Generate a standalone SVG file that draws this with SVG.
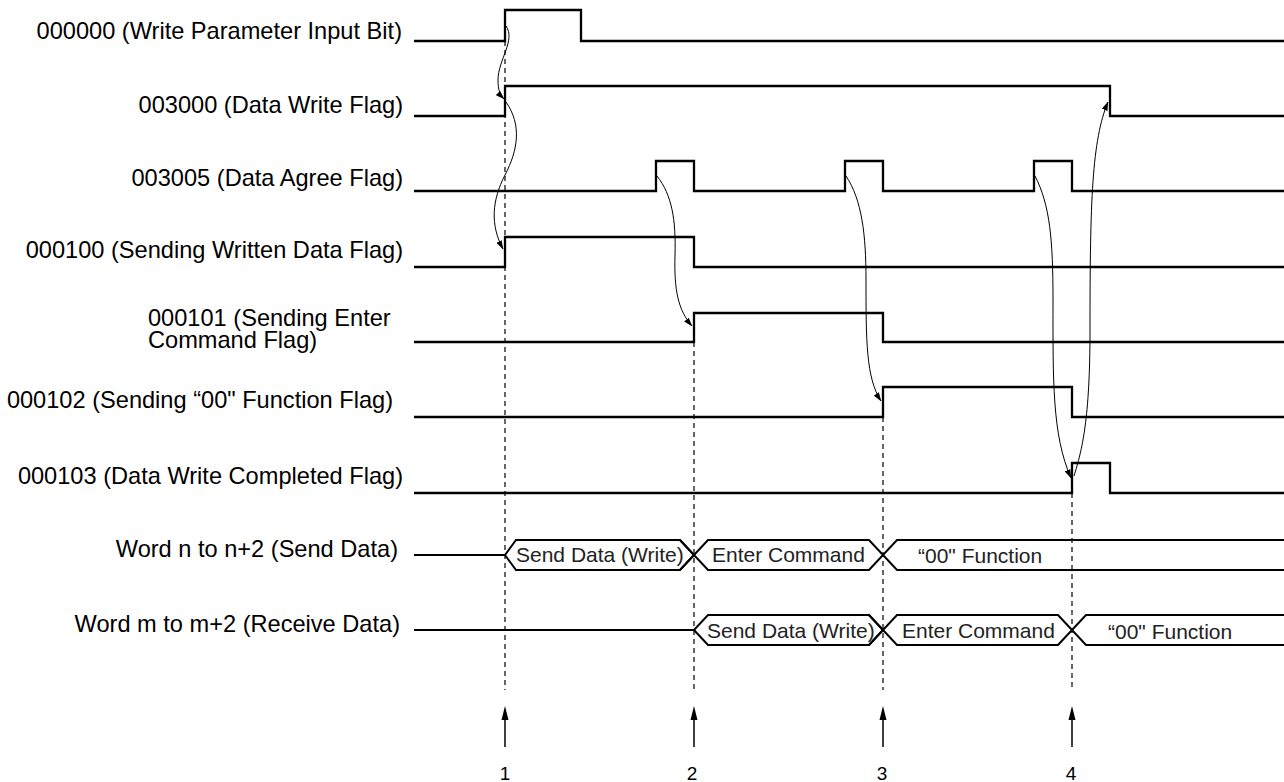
<svg xmlns="http://www.w3.org/2000/svg" width="1284" height="782" viewBox="0 0 1284 782">
<style>
.lbl{font-family:"Liberation Sans",Arial,sans-serif;font-size:23.6px;fill:#000;text-anchor:end}
.lbs{font-family:"Liberation Sans",Arial,sans-serif;font-size:23.6px;fill:#000}
.bt{font-family:"Liberation Sans",Arial,sans-serif;font-size:21px;fill:#222}
.num{font-family:"Liberation Sans",Arial,sans-serif;font-size:19px;fill:#000;text-anchor:middle}
.sig{fill:none;stroke:#000;stroke-width:2.3;stroke-linejoin:miter}
.bus{fill:none;stroke:#000;stroke-width:2}
.dash{fill:none;stroke:#000;stroke-width:1.2;stroke-dasharray:5 4}
.cur{fill:none;stroke:#000;stroke-width:1}
</style>
<defs>
<marker id="ah" markerWidth="9" markerHeight="6" refX="8.5" refY="3" orient="auto" markerUnits="userSpaceOnUse">
<path d="M0,0 L9,3 L0,6 Z" fill="#000"/>
</marker>
</defs>
<rect width="1284" height="782" fill="#fff"/>

<g id="row-000000">
<text class="lbl" x="402" y="39">000000 (Write Parameter Input Bit)</text>
<path class="sig" d="M414,41 H505 V10 H581 V41 H1284"/>
</g>
<g id="row-003000">
<text class="lbl" x="403" y="113">003000 (Data Write Flag)</text>
<path class="sig" d="M414,116 H505 V86 H1110 V116 H1284"/>
</g>
<g id="row-003005">
<text class="lbl" x="403" y="186">003005 (Data Agree Flag)</text>
<path class="sig" d="M414,191 H656 V161 H694 V191 H845 V161 H883 V191 H1034 V161 H1072 V191 H1284"/>
</g>
<g id="row-000100">
<text class="lbl" x="403" y="258">000100 (Sending Written Data Flag)</text>
<path class="sig" d="M414,267 H505 V237 H694 V267 H1284"/>
</g>
<g id="row-000101">
<text class="lbs" x="148" y="326">000101 (Sending Enter</text>
<text class="lbs" x="148" y="348">Command Flag)</text>
<path class="sig" d="M414,342 H694 V313 H883 V342 H1284"/>
</g>
<g id="row-000102">
<text class="lbl" x="393" y="408">000102 (Sending “00" Function Flag)</text>
<path class="sig" d="M414,417 H883 V387 H1072 V417 H1284"/>
</g>
<g id="row-000103">
<text class="lbl" x="403" y="484">000103 (Data Write Completed Flag)</text>
<path class="sig" d="M414,493 H1072 V463 H1110 V493 H1284"/>
</g>

<g id="bus-word-n">
<text class="lbl" x="398" y="557">Word n to n+2 (Send Data)</text>
<path class="bus" d="M414,555 H505 L516,540 H680 L694,555 L680,570 H516 L505,555"/>
<path class="bus" d="M680,540 L708,570 H869 L897,540 H1284 M680,570 L708,540 H869 L897,570 H1284"/>
<text class="bt" x="516" y="562">Send Data (Write)</text>
<text class="bt" x="712" y="562">Enter Command</text>
<text class="bt" x="918" y="563">“00" Function</text>
</g>
<g id="bus-word-m">
<text class="lbl" x="400" y="632">Word m to m+2 (Receive Data)</text>
<path class="bus" d="M414,630 H694 L708,615 H869 L883,630 L869,645 H708 L694,630"/>
<path class="bus" d="M869,615 L897,645 H1058 L1086,615 H1284 M869,645 L897,615 H1058 L1086,645 H1284"/>
<text class="bt" x="707" y="638">Send Data (Write)</text>
<text class="bt" x="902" y="638">Enter Command</text>
<text class="bt" x="1108" y="639">“00" Function</text>
</g>

<g id="connectors">
<path class="dash" d="M505,41 V690 M694,342 V690 M883,417 V690 M1072,493 V690"/>
<path class="cur" marker-end="url(#ah)" d="M506,26 C516,40 498,60 498,80 C498,90 500,95 504,99"/>
<path class="cur" marker-end="url(#ah)" d="M506,102 C522,125 518,150 505,175 C492,200 490,225 503,249"/>
<path class="cur" marker-end="url(#ah)" d="M657,176 C672,195 676,220 675,255 C674,290 678,310 692,326"/>
<path class="cur" marker-end="url(#ah)" d="M846,176 C862,200 866,235 866,280 C866,340 866,378 881,401"/>
<path class="cur" marker-end="url(#ah)" d="M1035,176 C1050,205 1053,240 1053,300 C1053,380 1052,435 1071,478"/>
<path class="cur" marker-end="url(#ah)" d="M1074,476 C1082,450 1090,420 1090,330 C1090,200 1092,140 1108,102"/>
<g id="markers-bottom">
<path d="M505,747 V716 M694,747 V716 M883,747 V716 M1072,747 V716" stroke="#000" stroke-width="1.5"/>
<path d="M505,706 L501.5,720 L508.5,720 Z M694,706 L690.5,720 L697.5,720 Z M883,706 L879.5,720 L886.5,720 Z M1072,706 L1068.5,720 L1075.5,720 Z" fill="#000"/>
</g>
</g>
<g id="step-numbers">
<text class="num" x="505" y="780">1</text>
<text class="num" x="692" y="780">2</text>
<text class="num" x="882" y="780">3</text>
<text class="num" x="1071" y="780">4</text>
</g>
</svg>
